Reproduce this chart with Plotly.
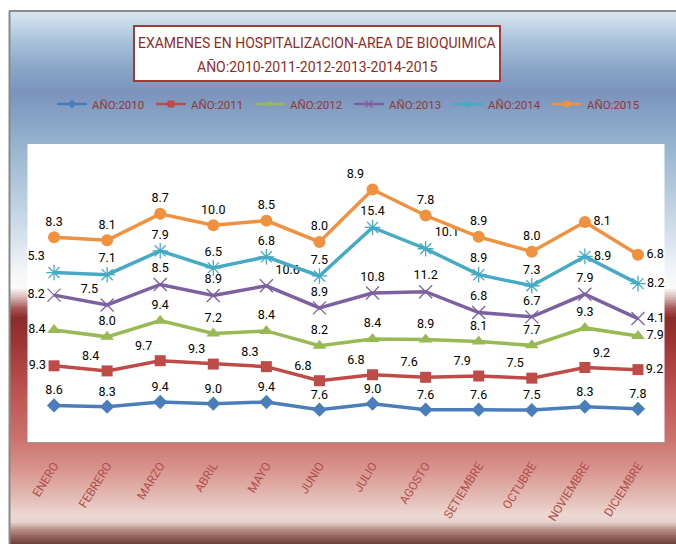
import plotly.graph_objects as go

W, H = 676, 544

months = ["ENERO", "FEBRERO", "MARZO", "ABRIL", "MAYO", "JUNIO", "JULIO",
          "AGOSTO", "SETIEMBRE", "OCTUBRE", "NOVIEMBRE", "DICIEMBRE"]

y2010 = [8.6, 8.3, 9.4, 9.0, 9.4, 7.6, 9.0, 7.6, 7.6, 7.5, 8.3, 7.8]
y2011 = [9.3, 8.4, 9.7, 9.3, 8.3, 6.8, 6.8, 7.6, 7.9, 7.5, 9.2, 9.2]
y2012 = [8.4, 8.0, 9.4, 7.2, 8.4, 8.2, 8.4, 8.9, 8.1, 7.7, 9.3, 7.9]
y2013 = [8.2, 7.5, 8.5, 8.9, 10.6, 8.9, 10.8, 11.2, 6.8, 6.7, 7.9, 4.1]
y2014 = [5.3, 7.1, 7.9, 6.5, 6.8, 7.5, 15.4, 10.1, 8.9, 7.3, 8.9, 8.2]
y2015 = [8.3, 8.1, 8.7, 10.0, 8.5, 8.0, 8.9, 7.8, 8.9, 8.0, 8.1, 6.8]

series_names = ["AÑO:2010", "AÑO:2011", "AÑO:2012", "AÑO:2013", "AÑO:2014", "AÑO:2015"]

TC, TL, TR, ML, MR = "top center", "top left", "top right", "middle left", "middle right"
positions = [
    [TC] * 12,
    [ML, TL, TL, TL, TL, TL, TL, TL, TL, TL, TR, MR],
    [ML, TC, TC, TC, TC, TC, TC, TC, TC, TC, TC, MR],
    [ML, TL, TC, TC, TR, TC, TC, TC, TC, TC, TC, MR],
    [TL, TC, TC, TC, TC, TC, TC, TR, TC, TC, MR, MR],
    [TC, TC, TC, TC, TC, TC, TL, TC, TC, TC, MR, MR],
]

styles = [
    dict(color="#4a7ebb", symbol="diamond", size=11, lw=None),
    dict(color="#be4b48", symbol="square", size=11, lw=None),
    dict(color="#98b954", symbol="triangle-up", size=12, lw=None),
    dict(color="#7d60a0", symbol="x-thin-open", size=13, lw=1.3),
    dict(color="#46aac5", symbol="asterisk-open", size=13, lw=1.3),
    dict(color="#f0913f", symbol="circle", size=12, lw=None),
]

NARROW = "Roboto, Liberation Sans, sans-serif"

fig = go.Figure()
all_vals = [y2010, y2011, y2012, y2013, y2014, y2015]
for name, vals, pos, st in zip(series_names, all_vals, positions, styles):
    marker = dict(symbol=st["symbol"], size=st["size"], color=st["color"])
    if st["lw"]:
        marker["line"] = dict(color=st["color"], width=st["lw"])
    fig.add_trace(go.Scatter(
        x=months, y=vals, name=name, stackgroup="one", fill="none",
        mode="lines+markers+text",
        line=dict(color=st["color"], width=3.5),
        marker=marker,
        text=[f"{v:.1f}" for v in vals],
        textposition=pos,
        textfont=dict(family=NARROW, size=12.5, color="#000000"),
        showlegend=False, cliponaxis=False,
    ))
    lmarker = dict(symbol=st["symbol"], size=7, color=st["color"])
    if st["lw"]:
        lmarker["line"] = dict(color=st["color"], width=1.2)
    fig.add_trace(go.Scatter(
        x=[None], y=[None], name=name, mode="lines+markers",
        line=dict(color=st["color"], width=2.5), marker=lmarker,
        showlegend=True,
    ))

# background gradient (vertical), pixel stops
stops = [(11, "#dce8f2"), (40, "#aac3da"), (70, "#88a4c6"), (92, "#7b93bc"),
         (120, "#87a5c6"), (160, "#a0bbd4"), (200, "#bbcfe0"), (240, "#d9e3ed"),
         (272, "#f3f6f8"), (288, "#fbfafa"), (298, "#d4b4b2"), (308, "#a85a58"),
         (318, "#8a2c2a"), (340, "#9a3533"), (370, "#b04644"), (400, "#c05854"),
         (440, "#cc736e"), (470, "#d8968f"), (500, "#e4bfb8"), (515, "#ecd9d2"),
         (522, "#e6d3cb"), (530, "#b48c85"), (538, "#8c5c55"), (544, "#6e4038")]


def hex2rgb(h):
    h = h.lstrip("#")
    return [int(h[i:i + 2], 16) for i in (0, 2, 4)]


def color_at(py):
    for (y0, c0), (y1, c1) in zip(stops[:-1], stops[1:]):
        if y0 <= py <= y1:
            t = (py - y0) / (y1 - y0) if y1 > y0 else 0
            a, b = hex2rgb(c0), hex2rgb(c1)
            return "rgb(%d,%d,%d)" % tuple(round(a[i] + (b[i] - a[i]) * t) for i in range(3))
    return stops[-1][1]


def py2p(py):
    return 1 - py / H


def px2p(px):
    return px / W


shapes = []
py = 11
while py < H:
    shapes.append(dict(type="rect", xref="paper", yref="paper", layer="below",
                       x0=px2p(10), x1=1.0, y0=py2p(py + 2.2), y1=py2p(py),
                       fillcolor=color_at(py + 1), line=dict(width=0)))
    py += 2
# chart border
shapes.append(dict(type="line", xref="paper", yref="paper", layer="below",
                   x0=px2p(9), x1=1.0, y0=py2p(11), y1=py2p(11),
                   line=dict(color="#8a8a8a", width=2)))
shapes.append(dict(type="line", xref="paper", yref="paper", layer="below",
                   x0=px2p(9.5), x1=px2p(9.5), y0=py2p(11), y1=0,
                   line=dict(color="#8a8a8a", width=2)))
# plot area white
PL, PR, PT, PB = 27.5, 664.5, 144, 442
shapes.append(dict(type="rect", xref="paper", yref="paper", layer="below",
                   x0=px2p(PL), x1=px2p(PR), y0=py2p(PB), y1=py2p(PT),
                   fillcolor="white", line=dict(width=0)))
# title box
shapes.append(dict(type="rect", xref="paper", yref="paper", layer="below",
                   x0=px2p(134), x1=px2p(500), y0=py2p(81), y1=py2p(26),
                   fillcolor="white", line=dict(color="#a33a38", width=2)))

TITLE_FONT = dict(family="Roboto, sans-serif", size=14, color="#8e2c2a")
annotations = [
    dict(text="EXAMENES EN HOSPITALIZACION-AREA DE BIOQUIMICA", xref="paper", yref="paper",
         x=px2p(317), y=py2p(43), xanchor="center", yanchor="middle", showarrow=False,
         font=TITLE_FONT),
    dict(text="AÑO:2010-2011-2012-2013-2014-2015", xref="paper", yref="paper",
         x=px2p(317), y=py2p(66), xanchor="center", yanchor="middle", showarrow=False,
         font=TITLE_FONT),
]

fig.update_layout(
    width=W, height=H,
    margin=dict(l=0, r=0, t=0, b=0, autoexpand=False),
    paper_bgcolor="white", plot_bgcolor="rgba(0,0,0,0)",
    shapes=shapes, annotations=annotations,
    showlegend=True,
    legend=dict(orientation="h", x=px2p(52), y=py2p(104), xanchor="left", yanchor="middle",
                bgcolor="rgba(0,0,0,0)", entrywidth=54, entrywidthmode="pixels",
                font=dict(family=NARROW, size=11.5, color="#953735"),
                traceorder="normal", itemclick=False),
    xaxis=dict(domain=[px2p(PL), px2p(PR)], range=[-0.5, 11.5], showgrid=False,
               zeroline=False, showline=True, linecolor="#9a9a9a", linewidth=1,
               tickangle=-58, ticks="", automargin=False, ticklabelstandoff=11,
               tickfont=dict(family="Roboto, Liberation Sans, sans-serif", size=12, color="#b24e4c"),
               fixedrange=True),
    yaxis=dict(domain=[py2p(PB), py2p(PT)], range=[0, 70], showgrid=False, zeroline=False,
               showline=False, showticklabels=False, automargin=False, fixedrange=True),
)

fig.write_html("out.html", config={"displayModeBar": False},
               post_script="document.body.style.margin='0';")
